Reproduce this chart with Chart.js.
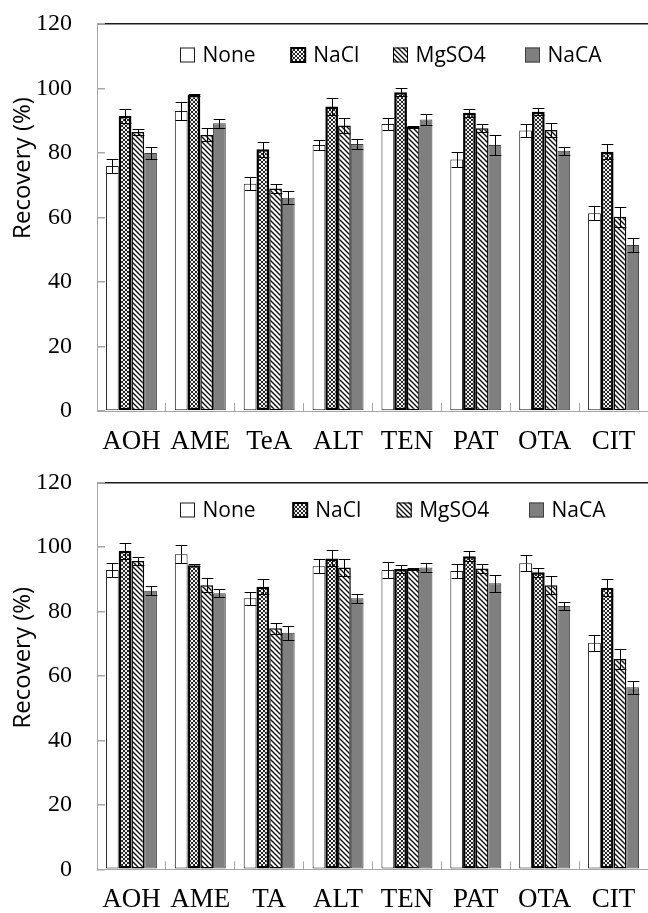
<!DOCTYPE html>
<html lang="en">
<head>
<meta charset="UTF-8">
<title>Recovery (%)</title>
<script src="https://cdn.jsdelivr.net/npm/chart.js"></script>
<style>
    body {
        margin: 0;
        background: #fff;
    }
    .chart-box {
        position: relative;
        width: 648px;
    }
    #topBox { height: 459px; }
    #bottomBox { height: 454px; }
</style>
</head>
<body>
<div class="chart-box" id="topBox"><canvas id="topChart"></canvas></div>
<div class="chart-box" id="bottomBox"><canvas id="bottomChart"></canvas></div>

<script>
// series and axis
const seriesNames = ['None', 'NaCl', 'MgSO4', 'NaCA'];
const yTicks = [0, 20, 40, 60, 80, 100, 120];

// upper panel
const topCategories = ['AOH', 'AME', 'TeA', 'ALT', 'TEN', 'PAT', 'OTA', 'CIT'];
const topNone  = [76, 93, 70.5, 82.5, 89, 78, 87, 61.3];
const topNaCl  = [91.5, 98, 81.2, 94.4, 98.8, 92.5, 92.8, 80.4];
const topMgSO4 = [86.5, 85.6, 69, 88.5, 88.2, 87.7, 87.1, 60.2];
const topNaCA  = [80, 89.2, 66.1, 82.8, 90.4, 82.5, 80.7, 51.5];
const topNoneErr  = [2.2, 2.8, 2, 1.5, 2, 2.3, 1.9, 2.2];
const topNaClErr  = [2.1, 0.3, 2.3, 2.6, 1.2, 1.2, 1, 2.4];
const topMgSO4Err = [1, 2, 1.3, 2.3, 0.3, 1.3, 2.1, 3.1];
const topNaCAErr  = [1.8, 1.3, 2, 1.5, 1.7, 3, 1.3, 2.2];

// lower panel
const bottomCategories = ['AOH', 'AME', 'TA', 'ALT', 'TEN', 'PAT', 'OTA', 'CIT'];
const bottomNone  = [92.9, 97.8, 84.1, 94.1, 92.9, 92.6, 95, 70.3];
const bottomNaCl  = [98.9, 94.4, 87.7, 96.5, 93.2, 97.2, 92.2, 87.4];
const bottomMgSO4 = [95.7, 88.2, 74.8, 93.7, 93.2, 93.4, 88.2, 65.3];
const bottomNaCA  = [86.5, 85.7, 73.4, 84.1, 93.7, 88.8, 81.7, 56.5];
const bottomNoneErr  = [2.2, 2.8, 2.1, 2.1, 2.4, 2.3, 2.5, 2.4];
const bottomNaClErr  = [2.5, 0.3, 2.4, 2.5, 1.2, 1.5, 1.4, 2.7];
const bottomMgSO4Err = [1.3, 2.2, 1.8, 2.6, 0.3, 1.3, 2.7, 3.2];
const bottomNaCAErr  = [1.4, 1.2, 2.2, 1.3, 1.3, 2.7, 1.3, 2];

// fill patterns
function makePattern(size, draw) {
    const c = document.createElement('canvas');
    c.width = size;
    c.height = size;
    const g = c.getContext('2d');
    draw(g, size);
    return g.createPattern(c, 'repeat');
}

// crosshatch: both diagonals on a 4px tile
const crossFill = makePattern(4, (g, s) => {
    g.fillStyle = '#f2f2f2';
    g.fillRect(0, 0, s, s);
    g.fillStyle = '#262626';
    for (let i = 0; i < s; i++) {
        g.fillRect(i, i, 1, 1);
        g.fillRect(s - 1 - i, i, 1, 1);
    }
});

const diagFill = makePattern(5, (g, s) => {
    g.fillStyle = '#fff';
    g.fillRect(0, 0, s, s);
    g.strokeStyle = '#111';
    g.lineWidth = 1.4;
    for (let k = -1; k <= 1; k++) {
        g.beginPath();
        g.moveTo(-1, -1 + k * s);
        g.lineTo(s + 1, s + 1 + k * s);
        g.stroke();
    }
});

const seriesStyle = [
    { backgroundColor: '#ffffff', borderColor: '#1a1a1a', borderWidth: 1 },
    { backgroundColor: crossFill, borderColor: '#000000', borderWidth: 2.5 },
    { backgroundColor: diagFill, borderColor: '#000000', borderWidth: 1.5 },
    { backgroundColor: '#7f7f7f', borderColor: '#404040', borderWidth: 1 }
];

// error bars from dataset.errors
const errorBars = {
    id: 'errorBars',
    afterDatasetsDraw(chart) {
        const ctx = chart.ctx;
        const yScale = chart.scales.y;
        ctx.save();
        ctx.strokeStyle = '#000';
        ctx.lineWidth = 1;
        chart.data.datasets.forEach((ds, i) => {
            const meta = chart.getDatasetMeta(i);
            meta.data.forEach((bar, j) => {
                const v = ds.data[j];
                const e = ds.errors[j];
                const yTop = Math.round(yScale.getPixelForValue(v + e)) + 0.5;
                const yBot = Math.round(yScale.getPixelForValue(v - e)) + 0.5;
                const x = Math.round(bar.x) + 0.5;
                const half = bar.width / 2 - 0.5;
                ctx.beginPath();
                ctx.moveTo(x, yTop); ctx.lineTo(x, yBot);
                ctx.moveTo(x - half, yTop); ctx.lineTo(x + half, yTop);
                ctx.moveTo(x - half, yBot); ctx.lineTo(x + half, yBot);
                ctx.stroke();
            });
        });
        ctx.restore();
    }
};

// legend drawn inside the plot area
const innerLegend = {
    id: 'innerLegend',
    afterDatasetsDraw(chart, args, opts) {
        const ctx = chart.ctx;
        const y = chart.chartArea.top + opts.dy;
        ctx.save();
        chart.data.datasets.forEach((ds, i) => {
            const x = opts.xs[i];
            ctx.fillStyle = ds.backgroundColor;
            ctx.fillRect(x, y - 7.5, 15, 15);
            ctx.lineWidth = ds.borderWidth > 2 ? 2 : 1;
            ctx.strokeStyle = ds.borderColor;
            ctx.strokeRect(x + 0.5, y - 7, 14, 14);
            ctx.fillStyle = '#000';
            ctx.font = '21px "Open Sans"';
            ctx.textBaseline = 'middle';
            ctx.textAlign = 'left';
            ctx.fillText(ds.label, x + 22.5, y + 1);
        });
        ctx.restore();
    }
};

// rotated y title
const yTitle = {
    id: 'yTitle',
    afterDraw(chart, args, opts) {
        const ctx = chart.ctx;
        ctx.save();
        ctx.translate(opts.x, chart.chartArea.top + opts.dy);
        ctx.rotate(-Math.PI / 2);
        ctx.font = '24px "Open Sans"';
        ctx.fillStyle = '#000';
        ctx.textAlign = 'center';
        ctx.textBaseline = 'middle';
        ctx.fillText('Recovery (%)', 0, 0);
        ctx.restore();
    }
};

function makeChart(id, categories, values, errors, layout) {
    const datasets = seriesNames.map((name, i) => Object.assign({
        label: name,
        data: values[i],
        errors: errors[i],
        borderSkipped: false,
        categoryPercentage: 0.74,
        barPercentage: 1.0
    }, seriesStyle[i]));

    return new Chart(document.getElementById(id), {
        type: 'bar',
        data: { labels: categories, datasets: datasets },
        plugins: [errorBars, innerLegend, yTitle],
        options: {
            responsive: true,
            maintainAspectRatio: false,
            animation: false,
            layout: { padding: { top: layout.padTop, left: 0, right: 0, bottom: 0 } },
            scales: {
                x: {
                    grid: {
                        offset: true,
                        drawOnChartArea: false,
                        tickLength: -8,
                        tickColor: '#a6a6a6'
                    },
                    border: { color: '#a6a6a6', width: 1 },
                    ticks: {
                        color: '#000',
                        font: { family: '"Liberation Serif", "Times New Roman", serif', size: 27 },
                        padding: 22.5,
                        maxRotation: 0,
                        autoSkip: false
                    },
                    afterFit(scale) {
                        scale.height = layout.xHeight;
                        scale.paddingLeft = 0;
                        scale.paddingRight = 0;
                    }
                },
                y: {
                    min: 0,
                    max: 120,
                    afterBuildTicks(scale) {
                        scale.ticks = yTicks.map(v => ({ value: v }));
                    },
                    grid: {
                        color: ctx => (ctx.tick && ctx.tick.value === 120) ? '#1a1a1a' : 'rgba(0,0,0,0)',
                        lineWidth: 1.5,
                        tickLength: -8,
                        tickColor: '#a6a6a6'
                    },
                    border: { color: '#a6a6a6', width: 1 },
                    ticks: {
                        color: '#000',
                        font: { family: '"Liberation Serif", "Times New Roman", serif', size: 24 },
                        padding: 33
                    },
                    afterFit(scale) {
                        scale.width = 97;
                        scale.paddingTop = 0;
                        scale.paddingBottom = 0;
                    }
                }
            },
            plugins: {
                legend: { display: false },
                tooltip: { enabled: false },
                innerLegend: { xs: layout.legendXs, dy: layout.legendDy },
                yTitle: { x: 23, dy: layout.titleDy }
            }
        }
    });
}

makeChart('topChart', topCategories,
    [topNone, topNaCl, topMgSO4, topNaCA],
    [topNoneErr, topNaClErr, topMgSO4Err, topNaCAErr],
    { padTop: 24, xHeight: 48, legendXs: [180, 290.7, 393, 525], legendDy: 31, titleDy: 144 });

makeChart('bottomChart', bottomCategories,
    [bottomNone, bottomNaCl, bottomMgSO4, bottomNaCA],
    [bottomNoneErr, bottomNaClErr, bottomMgSO4Err, bottomNaCAErr],
    { padTop: 23.7, xHeight: 43.7, legendXs: [180, 292.7, 396.7, 529], legendDy: 27.3, titleDy: 175 });
</script>
</body>
</html>
